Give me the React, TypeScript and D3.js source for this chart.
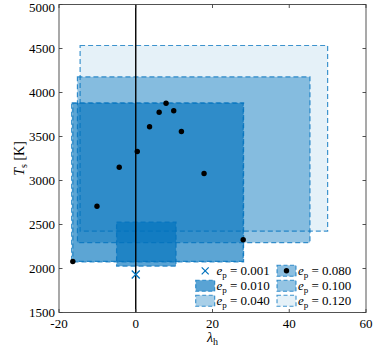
import React from 'react';
import * as d3 from 'd3';

// e_p boxes: lambda_h range and T_s range
const boxEp = ['0.120', '0.100', '0.040', '0.080', '0.010'];
const boxLamMin = [-14.5, -15.2, -16.7, -16.4, -5.0];
const boxLamMax = [50.0, 45.4, 28.1, 28.0, 10.5];
const boxTMin = [2424, 2295, 2075, 2080, 2026];
const boxTMax = [4534, 4178, 3882, 3878, 2526];

// e_p = 0.080 samples
const pointLam = [7.9, 6.1, 9.9, 3.6, 11.9, 0.4, -4.3, 17.8, -10.1, -16.4, 28.0];
const pointT = [3878, 3776, 3792, 3610, 3557, 3330, 3151, 3080, 2708, 2080, 2326];

// e_p = 0.001
const crossLam = [0];
const crossT = [1932];

const xTicks = [-20, 0, 20, 40, 60];
const yTicks = [1500, 2000, 2500, 3000, 3500, 4000, 4500, 5000];

const legendCol1 = ['0.001', '0.010', '0.040'];
const legendCol2 = ['0.080', '0.100', '0.120'];

const BLUE = '#0072BD';
const alphaByEp: Record<string, number> = {
  '0.120': 0.1,
  '0.100': 0.42,
  '0.080': 0.45,
  '0.040': 0.34,
  '0.010': 0.65,
};

const FONT = "'Liberation Serif', 'DejaVu Serif', serif";

const App = () => {
  const width = 373;
  const height = 346;
  const x = d3.scaleLinear().domain([-20, 60]).range([59, 366]);
  const y = d3.scaleLinear().domain([1500, 5000]).range([312.5, 4.5]);
  const [x0, x1] = x.range();
  const [yb, yt] = y.range();
  const tick = 3.5;
  const axisColor = '#404040';

  const crossPath = (cx: number, cy: number, r: number) =>
    `M${cx - r},${cy - r}L${cx + r},${cy + r}M${cx - r},${cy + r}L${cx + r},${cy - r}`;

  const rowY = [270.8, 285.8, 300.8];

  const legendPatch = (px: number, cy: number, ep: string) => (
    <rect
      x={px}
      y={cy - 5.5}
      width={19}
      height={11}
      fill={BLUE}
      fillOpacity={alphaByEp[ep]}
      stroke={BLUE}
      strokeOpacity={0.75}
      strokeWidth={1.1}
      strokeDasharray="4,2.5"
    />
  );

  const legendText = (tx: number, cy: number, ep: string) => (
    <text x={tx} y={cy + 4.5} fontFamily={FONT} fontSize={13} fill="#000">
      <tspan fontStyle="italic">e</tspan>
      <tspan dy={3} fontSize={9}>p</tspan>
      <tspan dy={-3}>{` = ${ep}`}</tspan>
    </text>
  );

  return (
    <svg
      width={width}
      height={height}
      style={{ position: 'absolute', left: 0, top: 0, background: '#fff' }}
    >
      {/* boxes */}
      {boxEp.map((ep, i) => (
        <rect
          key={ep}
          x={x(boxLamMin[i])}
          y={y(boxTMax[i])}
          width={x(boxLamMax[i]) - x(boxLamMin[i])}
          height={y(boxTMin[i]) - y(boxTMax[i])}
          fill={BLUE}
          fillOpacity={alphaByEp[ep]}
          stroke={BLUE}
          strokeOpacity={0.75}
          strokeWidth={1.2}
          strokeDasharray="5,3"
        />
      ))}

      {/* lambda_h = 0 line */}
      <line x1={x(0)} x2={x(0)} y1={yt} y2={yb} stroke="#000" strokeWidth={1.4} />

      {/* e_p = 0.001 */}
      {crossLam.map((l, i) => (
        <path key={i} d={crossPath(x(l), y(crossT[i]), 4)} stroke={BLUE} strokeWidth={1.3} fill="none" />
      ))}

      {/* e_p = 0.080 points */}
      {pointLam.map((l, i) => (
        <circle key={i} cx={x(l)} cy={y(pointT[i])} r={2.7} fill="#000" />
      ))}

      {/* axes frame */}
      <rect x={x0} y={yt} width={x1 - x0} height={yb - yt} fill="none" stroke={axisColor} strokeWidth={0.9} />
      {xTicks.map((t) => (
        <g key={t}>
          <line x1={x(t)} x2={x(t)} y1={yb} y2={yb - tick} stroke={axisColor} strokeWidth={0.9} />
          <line x1={x(t)} x2={x(t)} y1={yt} y2={yt + tick} stroke={axisColor} strokeWidth={0.9} />
          <text x={x(t)} y={328} textAnchor="middle" fontFamily={FONT} fontSize={13} fill="#000">
            {t}
          </text>
        </g>
      ))}
      {yTicks.map((t) => (
        <g key={t}>
          <line x1={x0} x2={x0 + tick} y1={y(t)} y2={y(t)} stroke={axisColor} strokeWidth={0.9} />
          <line x1={x1} x2={x1 - tick} y1={y(t)} y2={y(t)} stroke={axisColor} strokeWidth={0.9} />
          <text
            x={55}
            y={Math.max(y(t) + 4.3, 11.5)}
            textAnchor="end"
            fontFamily={FONT}
            fontSize={13}
            fill="#000"
          >
            {t}
          </text>
        </g>
      ))}

      {/* axis labels */}
      <text x={(x0 + x1) / 2} y={342} textAnchor="middle" fontFamily={FONT} fontSize={14} fill="#000">
        <tspan fontStyle="italic">λ</tspan>
        <tspan dy={3} fontSize={10}>h</tspan>
      </text>
      <text
        transform={`translate(24,${(yt + yb) / 2}) rotate(-90)`}
        textAnchor="middle"
        fontFamily={FONT}
        fontSize={14}
        fill="#000"
      >
        <tspan fontStyle="italic">T</tspan>
        <tspan dy={3} fontSize={10}>s</tspan>
        <tspan dy={-3}> [K]</tspan>
      </text>

      {/* legend */}
      {legendCol1.map((ep, i) => (
        <g key={ep}>
          {i === 0 ? (
            <path d={crossPath(205.2, rowY[i], 3.5)} stroke={BLUE} strokeWidth={1.2} fill="none" />
          ) : (
            legendPatch(195.7, rowY[i], ep)
          )}
          {legendText(216.5, rowY[i], ep)}
        </g>
      ))}
      {legendCol2.map((ep, i) => (
        <g key={ep}>
          {legendPatch(277, rowY[i], ep)}
          {i === 0 && <circle cx={286.5} cy={rowY[i]} r={2.7} fill="#000" />}
          {legendText(298, rowY[i], ep)}
        </g>
      ))}
    </svg>
  );
};

export default App;
